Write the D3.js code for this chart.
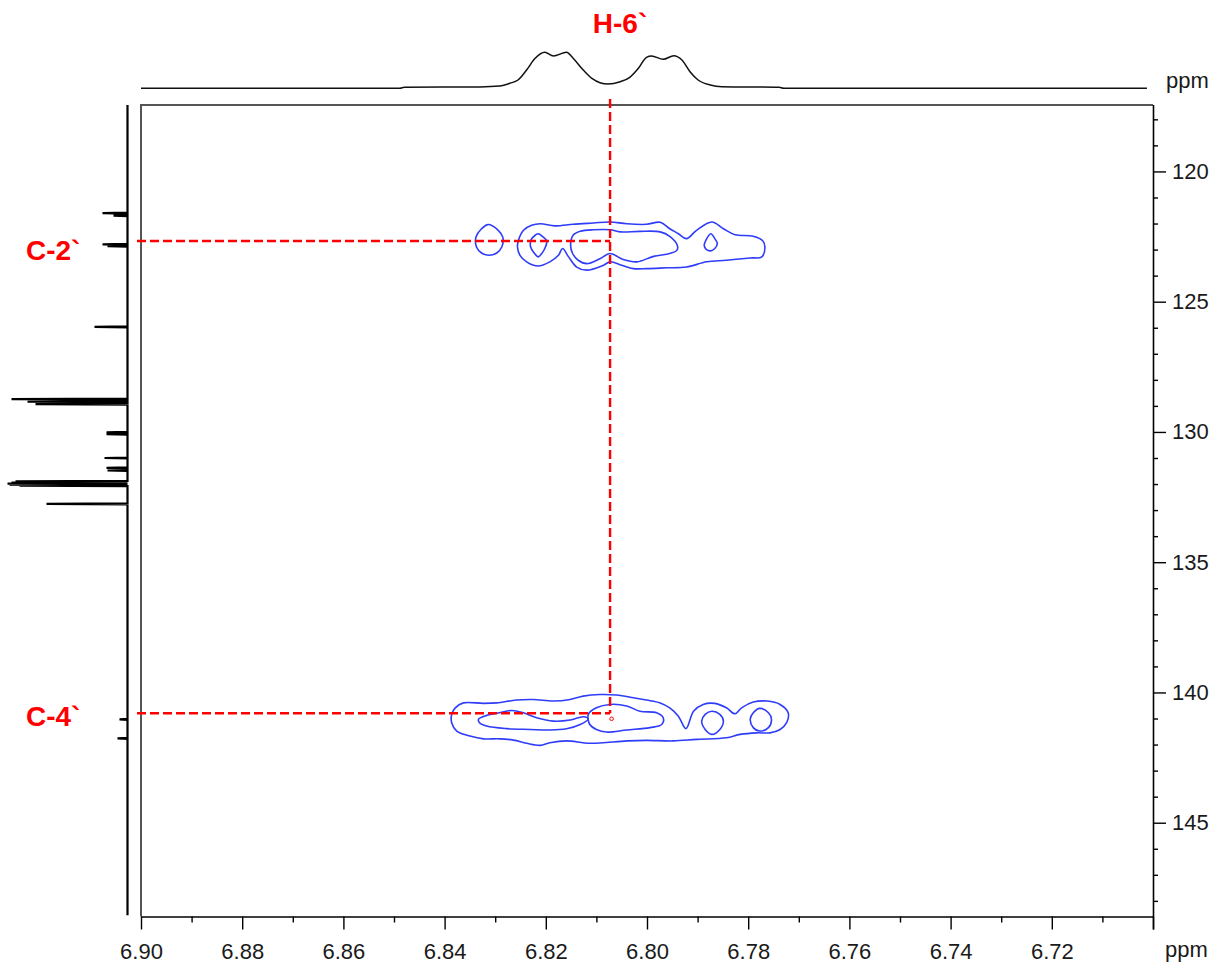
<!DOCTYPE html>
<html><head><meta charset="utf-8">
<script src="https://cdn.jsdelivr.net/npm/d3@7"></script>
<style>
html,body{margin:0;padding:0;background:#fff;}
svg{display:block;font-family:"Liberation Sans",Arial,Helvetica,sans-serif;}
</style></head><body>
<svg id="chart" width="1217" height="966"></svg>
<script>
// ================= DATA =================
const xMajorTicks = [6.90, 6.88, 6.86, 6.84, 6.82, 6.80, 6.78, 6.76, 6.74, 6.72, 6.70];
const xTickLabels = ["6.90", "6.88", "6.86", "6.84", "6.82", "6.80", "6.78", "6.76", "6.74", "6.72", ""];
const xMinorTicks = [6.89, 6.87, 6.85, 6.83, 6.81, 6.79, 6.77, 6.75, 6.73, 6.71];
const yMajorTicks = [120, 125, 130, 135, 140, 145];
const yTickLabels = ["120", "125", "130", "135", "140", "145"];
const yMinorTicks = [118, 119, 121, 122, 123, 124, 126, 127, 128, 129, 131, 132, 133, 134, 136, 137, 138, 139, 141, 142, 143, 144, 146, 147, 148];
const axisUnit = "ppm";

// 1H projection (top): [ppm, intensity]
const h1Projection = [
  [6.9000, 0], [6.8488, 0], [6.8480, 1], [6.8330, 1.4], [6.8291, 2.3], [6.8271, 5], [6.8255, 8.3],
  [6.8238, 18.3], [6.8221, 30], [6.8202, 36], [6.8185, 32.3], [6.8159, 36], [6.8146, 30],
  [6.8126, 18.3], [6.8109, 10], [6.8077, 4.3], [6.8053, 6.6], [6.8034, 11], [6.8017, 20],
  [6.8001, 31], [6.7991, 32.3], [6.7968, 29], [6.7947, 32.6], [6.7931, 28.3], [6.7915, 16.6],
  [6.7899, 8.3], [6.7875, 3.3], [6.7852, 1.6], [6.7739, 1], [6.7730, 0], [6.7012, 0]
];

// 13C projection (left): peaks [ppm, intensity]
const c13Peaks = [
  [121.60, 25], [121.70, 14], [122.80, 25], [122.87, 20], [125.97, 33],
  [128.74, 116], [128.84, 100], [128.93, 92], [130.02, 21], [130.08, 21],
  [131.00, 23], [131.38, 21], [131.48, 20], [131.90, 112], [131.94, 116],
  [131.98, 120], [132.02, 118], [132.06, 108], [132.76, 81], [141.03, 8], [141.76, 10]
];
const c13Range = [117.45, 148.55];

// Contour rings of the HMBC cross peaks: [1H ppm, 13C ppm]
const ringC2Left = [[6.8314,122.04],[6.8294,122.26],[6.8285,122.52],[6.8287,122.90],[6.8297,123.13],[6.8312,123.22],[6.8327,123.13],[6.8337,122.90],[6.8338,122.52],[6.8327,122.20]];
const ringC2Outer = [[6.8254,122.64],[6.8244,122.26],[6.8228,122.07],[6.8211,122.01],[6.8182,122.09],[6.8146,122.03],[6.8106,121.98],[6.8073,121.94],[6.8040,122.01],[6.8001,122.03],[6.7974,121.95],[6.7955,122.20],[6.7938,122.39],[6.7922,122.58],[6.7902,122.26],[6.7872,121.94],[6.7849,122.20],[6.7826,122.43],[6.7790,122.49],[6.7771,122.67],[6.7767,122.90],[6.7773,123.28],[6.7796,123.32],[6.7843,123.41],[6.7882,123.47],[6.7922,123.67],[6.7961,123.70],[6.8001,123.73],[6.8027,123.73],[6.8050,123.60],[6.8073,123.47],[6.8086,123.60],[6.8119,123.79],[6.8139,123.67],[6.8155,123.28],[6.8167,122.96],[6.8175,123.22],[6.8192,123.47],[6.8215,123.63],[6.8238,123.47],[6.8251,123.22],[6.8256,122.90]];
const ringC2Inner1 = [[6.8215,122.39],[6.8205,122.52],[6.8198,122.67],[6.8202,122.96],[6.8208,123.15],[6.8215,123.28],[6.8223,123.13],[6.8230,122.90],[6.8229,122.62],[6.8221,122.45]];
const ringC2Inner2 = [[6.8146,122.45],[6.8132,122.30],[6.8106,122.24],[6.8073,122.24],[6.8053,122.32],[6.8014,122.30],[6.7974,122.32],[6.7955,122.49],[6.7940,122.84],[6.7941,123.03],[6.7955,123.15],[6.7987,123.26],[6.8020,123.47],[6.8047,123.38],[6.8073,123.15],[6.8093,123.35],[6.8119,123.54],[6.8136,123.41],[6.8147,123.15],[6.8151,122.84]];
const ringC2Inner3 = [[6.7874,122.39],[6.7866,122.58],[6.7861,122.77],[6.7866,122.96],[6.7874,123.05],[6.7883,122.99],[6.7887,122.84],[6.7883,122.62]];

const ringC4Outer = [[6.8386,140.84],[6.8379,140.59],[6.8363,140.40],[6.8323,140.42],[6.8297,140.40],[6.8258,140.29],[6.8225,140.27],[6.8185,140.33],[6.8152,140.27],[6.8126,140.14],[6.8093,140.08],[6.8060,140.10],[6.8027,140.20],[6.8001,140.29],[6.7974,140.40],[6.7955,140.59],[6.7938,140.91],[6.7923,141.39],[6.7908,140.72],[6.7889,140.46],[6.7866,140.42],[6.7843,140.59],[6.7826,140.82],[6.7813,140.59],[6.7790,140.37],[6.7763,140.33],[6.7737,140.46],[6.7721,140.78],[6.7724,141.16],[6.7737,141.42],[6.7757,141.55],[6.7783,141.55],[6.7816,141.61],[6.7843,141.74],[6.7902,141.80],[6.7948,141.86],[6.8001,141.84],[6.8040,141.86],[6.8113,141.95],[6.8159,141.86],[6.8192,141.93],[6.8211,142.03],[6.8238,141.95],[6.8264,141.83],[6.8291,141.78],[6.8323,141.78],[6.8350,141.67],[6.8376,141.48],[6.8386,141.16]];
const ringC4Inner1 = [[6.8333,141.03],[6.8317,140.88],[6.8291,140.78],[6.8267,140.69],[6.8244,140.78],[6.8218,140.97],[6.8185,141.10],[6.8152,141.06],[6.8126,140.93],[6.8116,141.01],[6.8132,141.23],[6.8159,141.39],[6.8192,141.44],[6.8231,141.42],[6.8277,141.39],[6.8317,141.29],[6.8331,141.16]];
const ringC4Inner2 = [[6.8116,140.84],[6.8100,140.59],[6.8073,140.46],[6.8040,140.52],[6.8014,140.72],[6.7981,140.78],[6.7968,140.97],[6.7971,141.23],[6.7994,141.35],[6.8040,141.44],[6.8080,141.52],[6.8100,141.42],[6.8113,141.23]];
const ringC4Inner3 = [[6.7872,140.72],[6.7856,140.84],[6.7849,141.10],[6.7856,141.42],[6.7872,141.61],[6.7885,141.42],[6.7892,141.10],[6.7885,140.84]];
const ringC4Inner4 = [[6.7777,140.61],[6.7760,140.78],[6.7754,141.03],[6.7760,141.35],[6.7777,141.48],[6.7790,141.35],[6.7796,141.03],[6.7790,140.78]];

const contourRings = [ringC2Left, ringC2Outer, ringC2Inner1, ringC2Inner2, ringC2Inner3,
                      ringC4Outer, ringC4Inner1, ringC4Inner2, ringC4Inner3, ringC4Inner4];

// Correlation annotations
const protonLabels = ["H-6`"];
const protonShifts = [6.8073];
const carbonLabels = ["C-2`", "C-4`"];
const carbonShifts = [122.67, 140.80];
const markerPoint = [6.8070, 141.01];

// ================= LAYOUT / STYLE =================
const plot = {left: 141, right: 1153, top: 105, bottom: 916.5};
const labelBaselineOffset = [19, 12.5];
const blue = "#2f3cf8", red = "#ff0000";

const svg = d3.select("#chart");
const x = d3.scaleLinear().domain([6.90, 6.70]).range([plot.left, plot.right]);
const y = d3.scaleLinear().domain([117.45, 148.6]).range([plot.top, plot.bottom]);
const topInt = d3.scaleLinear().domain([0, 36]).range([88.3, 52.3]);
const leftInt = d3.scaleLinear().domain([0, 120]).range([127.5, 7.5]);

// frame (top and left in gray)
svg.append("path")
  .attr("d", `M${plot.left},${plot.bottom}V${plot.top}H${plot.right}`)
  .attr("fill", "none").attr("stroke", "#555").attr("stroke-width", 2);

// axes
function styleAxis(g) {
  g.selectAll(".domain").attr("stroke", "#000").attr("stroke-width", 1.6);
  g.selectAll(".tick line").attr("stroke", "#000").attr("stroke-width", 1.4);
  g.selectAll(".tick text").attr("fill", "#1a1a1a").style("font-size", "22px")
    .style("font-family", '"Liberation Sans", Arial, sans-serif');
}
const gxMinor = svg.append("g").attr("transform", `translate(0,${plot.bottom})`)
  .call(d3.axisBottom(x).tickValues(xMinorTicks).tickFormat("").tickSize(6).tickSizeOuter(0));
gxMinor.select(".domain").remove(); styleAxis(gxMinor);
const gx = svg.append("g").attr("transform", `translate(0,${plot.bottom})`)
  .call(d3.axisBottom(x).tickValues(xMajorTicks).tickFormat((d, i) => xTickLabels[i])
    .tickSize(13).tickSizeOuter(0).tickPadding(14));
styleAxis(gx);

const gyMinor = svg.append("g").attr("transform", `translate(${plot.right},0)`)
  .call(d3.axisRight(y).tickValues(yMinorTicks).tickFormat("").tickSize(5).tickSizeOuter(0));
gyMinor.select(".domain").remove(); styleAxis(gyMinor);
const gy = svg.append("g").attr("transform", `translate(${plot.right},0)`)
  .call(d3.axisRight(y).tickValues(yMajorTicks).tickFormat((d, i) => yTickLabels[i])
    .tickSize(13).tickSizeOuter(0).tickPadding(6));
styleAxis(gy);
gy.select(".domain").attr("d", `M0.5,${plot.top}V${plot.bottom + 13}`);

// unit labels
svg.append("text").attr("x", 1166).attr("y", 88).text(axisUnit)
  .attr("font-size", 22).attr("fill", "#1a1a1a");
svg.append("text").attr("x", 1165).attr("y", 957).text(axisUnit)
  .attr("font-size", 22).attr("fill", "#1a1a1a");

// 1H projection
svg.append("path").datum(h1Projection)
  .attr("d", d3.line().x(d => x(d[0])).y(d => topInt(d[1])).curve(d3.curveMonotoneX))
  .attr("fill", "none").attr("stroke", "#111").attr("stroke-width", 1.5);

// 13C projection
const c13Pts = [[c13Range[0], 0]];
c13Peaks.slice().sort((a, b) => a[0] - b[0]).forEach(p => {
  c13Pts.push([p[0] - 0.02, 0], [p[0], p[1]], [p[0] + 0.02, 0]);
});
c13Pts.push([c13Range[1], 0]);
svg.append("path").datum(c13Pts)
  .attr("d", d3.line().x(d => leftInt(d[1])).y(d => y(d[0])))
  .attr("fill", "none").attr("stroke", "#000").attr("stroke-width", 2.2).attr("stroke-linejoin", "miter");

// contours
const ringLine = d3.line().x(d => x(d[0])).y(d => y(d[1])).curve(d3.curveCatmullRomClosed.alpha(0.5));
svg.append("g").selectAll("path").data(contourRings).join("path")
  .attr("d", ringLine).attr("fill", "none").attr("stroke", blue).attr("stroke-width", 1.6);

// correlation dashed lines
const hx = x(protonShifts[0]);
const lastC = y(d3.max(carbonShifts));
const dash = "9,4";
svg.append("line").attr("x1", hx).attr("x2", hx).attr("y1", plot.top - 6).attr("y2", lastC)
  .attr("stroke", red).attr("stroke-width", 2.4).attr("stroke-dasharray", dash);
carbonShifts.forEach((c, i) => {
  svg.append("line").attr("x1", plot.left - 4).attr("x2", hx).attr("y1", y(c)).attr("y2", y(c))
    .attr("stroke", red).attr("stroke-width", 2.4).attr("stroke-dasharray", dash);
  svg.append("text").attr("x", 26).attr("y", y(c) + labelBaselineOffset[i]).text(carbonLabels[i])
    .attr("font-size", 28).attr("font-weight", "bold").attr("fill", red);
});
svg.append("text").attr("x", hx + 10).attr("y", 33).attr("text-anchor", "middle").text(protonLabels[0])
  .attr("font-size", 28).attr("font-weight", "bold").attr("fill", red);
svg.append("circle").attr("cx", x(markerPoint[0])).attr("cy", y(markerPoint[1])).attr("r", 1.8)
  .attr("fill", "none").attr("stroke", red).attr("stroke-width", 1);
</script>
</body></html>
